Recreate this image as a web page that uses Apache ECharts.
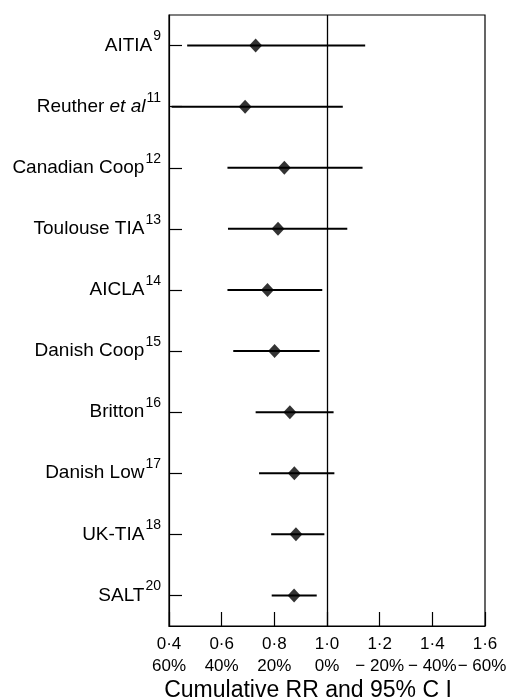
<!DOCTYPE html>
<html>
<head>
<meta charset="utf-8">
<script src="https://cdn.jsdelivr.net/npm/echarts@6/dist/echarts.min.js"></script>
<style>
html,body{margin:0;padding:0;background:#fff;}
#chart{width:506px;height:700px;}
</style>
</head>
<body>
<div id="chart"></div>
<script>
// ---- data ----
const studyMain   = ['AITIA', 'Reuther ', 'Canadian Coop', 'Toulouse TIA', 'AICLA', 'Danish Coop', 'Britton', 'Danish Low', 'UK-TIA', 'SALT'];
const studyItalic = ['', 'et al', '', '', '', '', '', '', '', ''];
const studyRef    = ['9', '11', '12', '13', '14', '15', '16', '17', '18', '20'];
const rrPoint = [0.729, 0.689, 0.838, 0.814, 0.774, 0.801, 0.859, 0.876, 0.882, 0.875];
const ciLow   = [0.469, 0.410, 0.622, 0.624, 0.622, 0.644, 0.729, 0.742, 0.788, 0.790];
const ciHigh  = [1.145, 1.060, 1.135, 1.077, 0.982, 0.972, 1.025, 1.028, 0.990, 0.961];
const xTickTop    = ['0·4', '0·6', '0·8', '1·0', '1·2', '1·4', '1·6'];
const xTickBottom = ['60%', '40%', '20%', '0%', '− 20%', '− 40%', '− 60%'];
const axisTitle = 'Cumulative RR and 95% C I';

const FONT = '"Liberation Sans", Arial, Helvetica, sans-serif';
const chart = echarts.init(document.getElementById('chart'), null, {renderer: 'canvas'});

const cats = studyMain.map((m, i) => m + studyItalic[i]);
const whiskerData = studyMain.map((m, i) => [ciLow[i], ciHigh[i], i]);
const pointData = studyMain.map((m, i) => [rrPoint[i], i]);

chart.setOption({
  backgroundColor: '#fff',
  animation: false,
  grid: {left: 169, right: 21, top: 15, bottom: 74, show: true, borderColor: '#000', borderWidth: 1.2,
         containLabel: false, outerBoundsMode: 'none'},
  xAxis: {
    type: 'value', min: 0.4, max: 1.6, interval: 0.2,
    axisLine: {show: true, lineStyle: {color: '#000', width: 1.2}},
    axisTick: {show: true, inside: true, length: 14, lineStyle: {color: '#000', width: 1.2}},
    splitLine: {show: false},
    axisLabel: {
      margin: 7,
      showMinLabel: true, showMaxLabel: true, hideOverlap: false,
      formatter: function (v) {
        const k = Math.round((v - 0.4) / 0.2);
        const last = k === xTickTop.length - 1;
        return last
          ? '{a|' + xTickTop[k] + '}\n{c|' + xTickBottom[k] + '}'
          : '{a|' + xTickTop[k] + '}\n{b|' + xTickBottom[k] + '}';
      },
      rich: {
        a: {fontFamily: FONT, fontSize: 17, color: '#000', lineHeight: 22, align: 'center'},
        b: {fontFamily: FONT, fontSize: 17, color: '#000', lineHeight: 22, align: 'center'},
        c: {fontFamily: FONT, fontSize: 17, color: '#000', lineHeight: 22, align: 'center', padding: [0, 6, 0, 0]}
      }
    },
    name: axisTitle, nameLocation: 'middle', nameGap: 53,
    nameTextStyle: {fontFamily: FONT, fontSize: 23, color: '#000', padding: [0, 38, 0, 0]}
  },
  yAxis: {
    type: 'category', data: cats, inverse: true,
    axisLine: {show: true, lineStyle: {color: '#000', width: 1.2}},
    axisTick: {show: true, inside: true, alignWithLabel: true, length: 13, lineStyle: {color: '#000', width: 1.2}},
    splitLine: {show: false},
    axisLabel: {
      margin: 8,
      formatter: function (v, i) {
        let s = '{n|' + studyMain[i] + '}';
        if (studyItalic[i]) s += '{it|' + studyItalic[i] + '}';
        s += '{s|' + studyRef[i] + '}';
        return s;
      },
      rich: {
        n: {fontFamily: FONT, fontSize: 19, color: '#000', lineHeight: 32, verticalAlign: 'middle'},
        it: {fontFamily: FONT, fontSize: 19, fontStyle: 'italic', color: '#000', lineHeight: 32, verticalAlign: 'middle'},
        s: {fontFamily: FONT, fontSize: 14, color: '#000', lineHeight: 14, verticalAlign: 'top', padding: [0, 0, 0, 1]}
      }
    }
  },
  series: [
    {
      type: 'custom',
      data: whiskerData,
      renderItem: function (params, api) {
        const p1 = api.coord([api.value(0), api.value(2)]);
        const p2 = api.coord([api.value(1), api.value(2)]);
        return {type: 'line', shape: {x1: p1[0], y1: p1[1], x2: p2[0], y2: p2[1]},
                style: {stroke: '#000', lineWidth: 2}};
      },
      encode: {x: [0, 1], y: 2},
      z: 2
    },
    {
      type: 'scatter',
      data: pointData,
      symbol: 'diamond',
      symbolSize: [13, 14],
      itemStyle: {color: '#000'},
      z: 3,
      markLine: {
        silent: true, symbol: 'none', label: {show: false},
        lineStyle: {color: '#000', width: 1.3, type: 'solid'},
        data: [{xAxis: 1.0}]
      }
    }
  ]
});
</script>
</body>
</html>
